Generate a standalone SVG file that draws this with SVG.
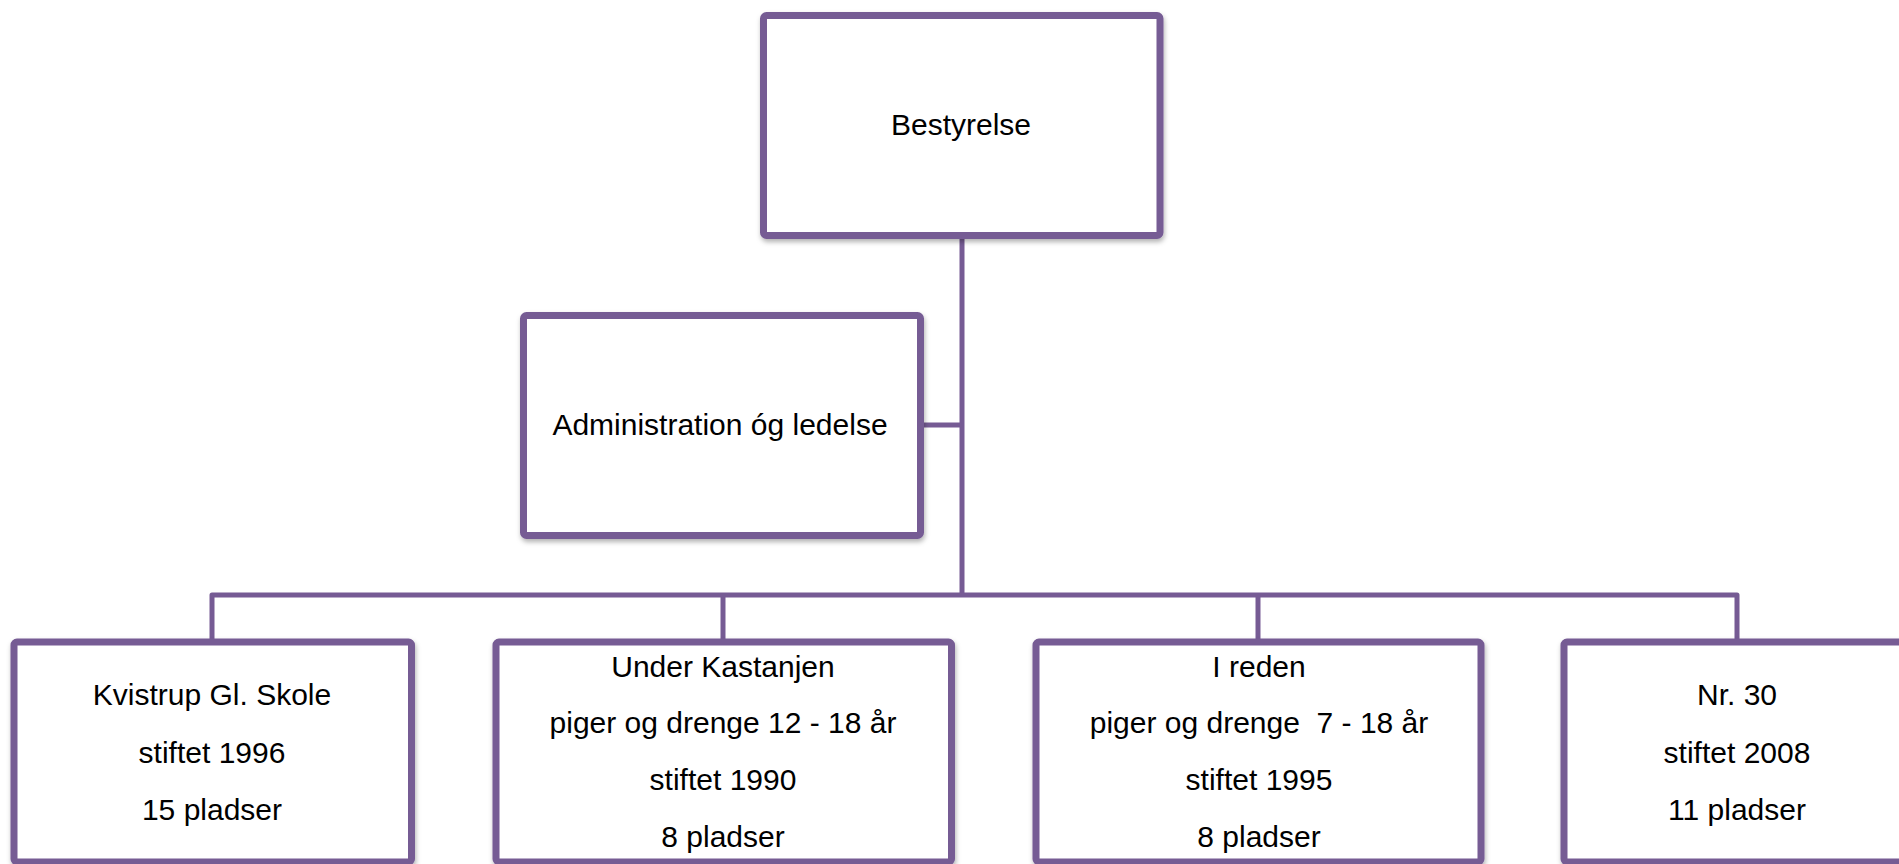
<svg xmlns="http://www.w3.org/2000/svg" width="1899" height="864" viewBox="0 0 1899 864">
<style>
.box{fill:#ffffff;stroke:#765b94;stroke-width:7;filter:url(#sh)}
.con{fill:none;stroke:#765b94;stroke-width:5;stroke-linejoin:round}
.t{font-family:"Liberation Sans",Arial,sans-serif;font-size:30px;fill:#000;text-anchor:middle}
</style>
<defs>
<filter id="sh" x="-5%" y="-5%" width="110%" height="115%">
<feDropShadow dx="1" dy="3" stdDeviation="2.5" flood-color="#000" flood-opacity="0.3"/>
</filter>
</defs>
<rect width="1899" height="864" fill="#ffffff"/>
<g id="connectors">
<path class="con" d="M962 236 V595"/>
<path class="con" d="M920 425 H962"/>
<path class="con" d="M212 642 V595 H1737 V642"/>
<path class="con" d="M723 595 V642"/>
<path class="con" d="M1258 595 V642"/>
</g>
<g id="bestyrelse">
<rect class="box" x="763.5" y="15.5" width="396.5" height="220" rx="3"/>
<text class="t" x="961" y="135">Bestyrelse</text>
</g>
<g id="administration">
<rect class="box" x="523.5" y="315.5" width="397" height="220" rx="3"/>
<text class="t" x="720" y="435">Administration óg ledelse</text>
</g>
<g id="kvistrup">
<rect class="box" x="14" y="642" width="397.5" height="220" rx="3"/>
<text class="t" x="212" y="705">Kvistrup Gl. Skole</text>
<text class="t" x="212" y="763">stiftet 1996</text>
<text class="t" x="212" y="820">15 pladser</text>
</g>
<g id="under-kastanjen">
<rect class="box" x="496" y="642" width="455.5" height="220" rx="3"/>
<text class="t" x="723" y="677">Under Kastanjen</text>
<text class="t" x="723" y="733">piger og drenge 12 - 18 år</text>
<text class="t" x="723" y="790">stiftet 1990</text>
<text class="t" x="723" y="847">8 pladser</text>
</g>
<g id="i-reden">
<rect class="box" x="1036" y="642" width="445" height="220" rx="3"/>
<text class="t" x="1259" y="677">I reden</text>
<text class="t" x="1259" y="733" xml:space="preserve">piger og drenge  7 - 18 år</text>
<text class="t" x="1259" y="790">stiftet 1995</text>
<text class="t" x="1259" y="847">8 pladser</text>
</g>
<g id="nr30">
<rect class="box" x="1564" y="642" width="346" height="220" rx="3"/>
<text class="t" x="1737" y="705">Nr. 30</text>
<text class="t" x="1737" y="763">stiftet 2008</text>
<text class="t" x="1737" y="820">11 pladser</text>
</g>
</svg>
